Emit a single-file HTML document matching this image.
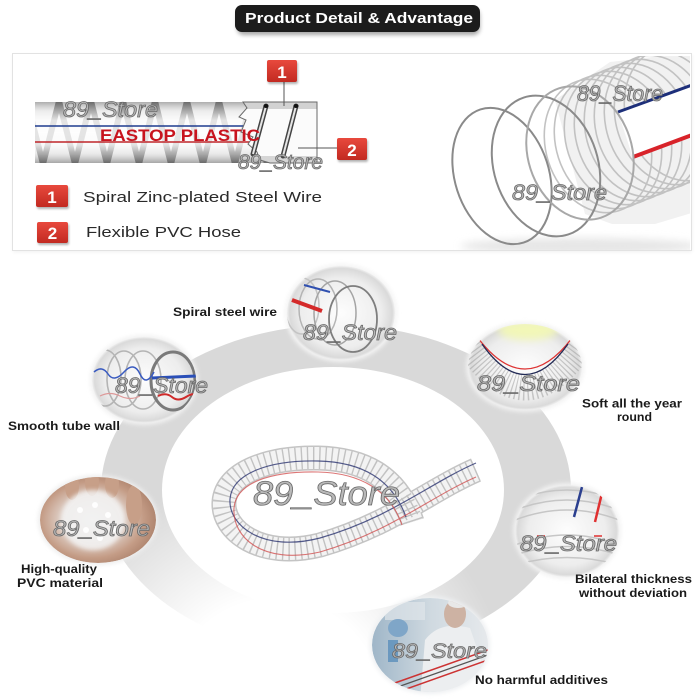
<!DOCTYPE html>
<html><head><meta charset="utf-8">
<style>
html,body{margin:0;padding:0;background:#fff;}
svg{display:block;}
text{font-family:"Liberation Sans",Arial,sans-serif;}
.wm{font-style:italic;fill:#b9b9b9;stroke:#6a6a6a;stroke-width:.8px;}
.lb{font-weight:bold;fill:#1a1a1a;font-size:12px;}
</style></head><body>
<svg width="700" height="700" viewBox="0 0 700 700" xmlns="http://www.w3.org/2000/svg">
<defs>
<filter id="blur2" x="-20%" y="-50%" width="140%" height="200%"><feGaussianBlur stdDeviation="2"/></filter>
<filter id="blur1"><feGaussianBlur stdDeviation="1"/></filter>
<filter id="blur4" x="-50%" y="-50%" width="200%" height="200%"><feGaussianBlur stdDeviation="4"/></filter>
<linearGradient id="hoseBody" x1="0" y1="0" x2="0" y2="1">
 <stop offset="0" stop-color="#adadad"/>
 <stop offset=".15" stop-color="#e0e0e0"/>
 <stop offset=".5" stop-color="#f8f8f8"/>
 <stop offset=".85" stop-color="#dadada"/>
 <stop offset="1" stop-color="#a6a6a6"/>
</linearGradient>
<linearGradient id="badge" x1="0" y1="0" x2="0" y2="1">
 <stop offset="0" stop-color="#e8493d"/>
 <stop offset="1" stop-color="#c22a21"/>
</linearGradient>
<linearGradient id="midfade" x1="0" y1="0" x2="0" y2="1">
 <stop offset="0" stop-color="#fff" stop-opacity="0"/>
 <stop offset=".3" stop-color="#fff" stop-opacity=".8"/>
 <stop offset=".7" stop-color="#fff" stop-opacity=".8"/>
 <stop offset="1" stop-color="#fff" stop-opacity="0"/>
</linearGradient>
<radialGradient id="fadeG" gradientUnits="userSpaceOnUse" cx="275" cy="705" r="235">
 <stop offset="0" stop-color="#000"/>
 <stop offset=".45" stop-color="#000"/>
 <stop offset="1" stop-color="#fff"/>
</radialGradient>
<mask id="ringMask"><rect width="700" height="700" fill="url(#fadeG)"/></mask>
<radialGradient id="pW" cx=".5" cy=".5" r=".5">
 <stop offset="0" stop-color="#fdfdfd"/>
 <stop offset=".75" stop-color="#ededed"/>
 <stop offset=".95" stop-color="#dadada"/>
 <stop offset="1" stop-color="#f0f0f0"/>
</radialGradient>
<radialGradient id="pSkin" cx=".45" cy=".5" r=".55">
 <stop offset="0" stop-color="#eeeeee"/>
 <stop offset=".45" stop-color="#e2d6cf"/>
 <stop offset=".8" stop-color="#c49c86"/>
 <stop offset="1" stop-color="#b08670"/>
</radialGradient>
<linearGradient id="pLab" x1="0" y1="0" x2="1" y2="0">
 <stop offset="0" stop-color="#9fb6c8"/>
 <stop offset=".5" stop-color="#cfd9e0"/>
 <stop offset="1" stop-color="#e6e9ec"/>
</linearGradient>
<clipPath id="leftBody"><polygon points="35,102 243,102 247,108 239,117 246,120 241,132 253,137 248,144 257,152 260,160 270,163 35,163"/></clipPath>
<clipPath id="cutC"><polygon points="243,102 317,102 317,163 270,163 260,160 257,152 248,144 253,137 241,132 246,120 239,117 247,108"/></clipPath>
<clipPath id="photoR"><rect x="445" y="56" width="245" height="194"/></clipPath>
<clipPath id="c1"><ellipse cx="341" cy="313" rx="54" ry="47"/></clipPath>
<clipPath id="c2"><ellipse cx="144" cy="380" rx="52" ry="43"/></clipPath>
<clipPath id="c3"><ellipse cx="525" cy="367" rx="57" ry="43"/></clipPath>
<clipPath id="c4"><ellipse cx="98" cy="520" rx="58" ry="43"/></clipPath>
<clipPath id="c5"><ellipse cx="567" cy="531" rx="52" ry="46"/></clipPath>
<clipPath id="c6"><ellipse cx="430" cy="645" rx="58" ry="47"/></clipPath>
</defs>

<rect width="700" height="700" fill="#fff"/>

<!-- Title pill -->
<rect x="237" y="9" width="243" height="26" rx="7" fill="#000" opacity=".35" filter="url(#blur2)"/>
<rect x="235" y="5" width="245" height="27" rx="7" fill="#1c1c1c"/>
<text x="245" y="23" font-size="14.5" font-weight="bold" fill="#fff" textLength="228" lengthAdjust="spacingAndGlyphs">Product Detail &amp; Advantage</text>

<!-- Panel -->
<rect x="13" y="55" width="679" height="197" fill="#000" opacity=".06" filter="url(#blur2)"/>
<rect x="12.5" y="53.5" width="679" height="197" fill="#fff" stroke="#e2e2e2" stroke-width="1"/>

<!-- Left hose diagram -->
<g clip-path="url(#leftBody)">
 <rect x="35" y="102" width="240" height="61" fill="url(#hoseBody)"/>
 <polyline points="27,101 43,164 59,101 75,164 91,101 107,164 123,101 139,164 155,101 171,164 187,101 203,164 219,101 235,164 251,101 267,164" fill="none" stroke="#5f5f5f" stroke-width="6" opacity=".85"/>
 <rect x="35" y="102" width="240" height="61" fill="url(#midfade)"/>
 <line x1="35" y1="126" x2="250" y2="126" stroke="#1f3d8f" stroke-width="1.5"/>
 <line x1="35" y1="142" x2="260" y2="142" stroke="#c0262b" stroke-width="1.5"/>
</g>
<g clip-path="url(#cutC)">
 <rect x="235" y="102" width="85" height="61" fill="#fbfbfb"/>
 <rect x="235" y="102" width="85" height="7" fill="#d2d2d2"/>
 <rect x="235" y="156" width="85" height="7" fill="#d6d6d6"/>
</g>
<polygon points="243,102 317,102 317,163 270,163 260,160 257,152 248,144 253,137 241,132 246,120 239,117 247,108" fill="none" stroke="#6a6a6a" stroke-width="1"/>
<line x1="266" y1="106" x2="253" y2="154" stroke="#444" stroke-width="5" stroke-linecap="round"/>
<line x1="266" y1="106" x2="253" y2="154" stroke="#e6e6e6" stroke-width="2"/>
<line x1="296" y1="106" x2="283" y2="156" stroke="#444" stroke-width="5" stroke-linecap="round"/>
<line x1="296" y1="106" x2="283" y2="156" stroke="#e6e6e6" stroke-width="2"/>
<ellipse cx="266" cy="106" rx="2.5" ry="2" fill="#111"/>
<ellipse cx="296" cy="106" rx="2.5" ry="2" fill="#111"/>
<text x="100" y="141" font-size="16.5" font-weight="bold" fill="#c8141e" textLength="160" lengthAdjust="spacingAndGlyphs">EASTOP PLASTIC</text>

<!-- badges + connectors -->
<line x1="284" y1="82" x2="284" y2="106" stroke="#555" stroke-width="1"/>
<line x1="298" y1="148" x2="338" y2="148" stroke="#555" stroke-width="1"/>
<rect x="268" y="62" width="30" height="22" rx="2" fill="#000" opacity=".3" filter="url(#blur1)"/>
<rect x="267" y="60" width="30" height="22" rx="2" fill="url(#badge)"/>
<text x="282" y="78" font-size="17" font-weight="bold" fill="#fff" text-anchor="middle">1</text>
<rect x="338" y="140" width="30" height="22" rx="2" fill="#000" opacity=".3" filter="url(#blur1)"/>
<rect x="337" y="138" width="30" height="22" rx="2" fill="url(#badge)"/>
<text x="352" y="156" font-size="17" font-weight="bold" fill="#fff" text-anchor="middle">2</text>

<rect x="37" y="187" width="32" height="22" rx="2" fill="#000" opacity=".3" filter="url(#blur1)"/>
<rect x="36" y="185" width="32" height="22" rx="2" fill="url(#badge)"/>
<text x="52" y="203" font-size="17" font-weight="bold" fill="#fff" text-anchor="middle">1</text>
<rect x="38" y="224" width="31" height="21" rx="2" fill="#000" opacity=".3" filter="url(#blur1)"/>
<rect x="37" y="222" width="31" height="21" rx="2" fill="url(#badge)"/>
<text x="52.5" y="239" font-size="17" font-weight="bold" fill="#fff" text-anchor="middle">2</text>
<text x="83" y="202" font-size="14.5" fill="#2a2a2a" textLength="239" lengthAdjust="spacingAndGlyphs">Spiral Zinc-plated Steel Wire</text>
<text x="86" y="237" font-size="14.5" fill="#2a2a2a" textLength="155" lengthAdjust="spacingAndGlyphs">Flexible PVC Hose</text>

<!-- Right photo: spiral hose -->
<g clip-path="url(#photoR)">
 <ellipse cx="580" cy="246" rx="120" ry="8" fill="#e6e6e6" filter="url(#blur4)"/>
 <polygon points="555,100 610,62 695,52 695,212 655,224 612,224 585,214" fill="#eeeeee" opacity=".85"/>
 <g fill="none" stroke="#c2c2c2" stroke-width="1.6">
  <ellipse cx="598" cy="146" rx="52" ry="68" transform="rotate(-18 598 146)"/>
  <ellipse cx="608" cy="142" rx="52" ry="68" transform="rotate(-18 608 142)"/>
  <ellipse cx="618" cy="138" rx="52" ry="68" transform="rotate(-18 618 138)"/>
  <ellipse cx="628" cy="134" rx="52" ry="68" transform="rotate(-18 628 134)"/>
  <ellipse cx="638" cy="130" rx="52" ry="68" transform="rotate(-18 638 130)"/>
  <ellipse cx="648" cy="126" rx="52" ry="68" transform="rotate(-18 648 126)"/>
  <ellipse cx="658" cy="122" rx="52" ry="68" transform="rotate(-18 658 122)"/>
  <ellipse cx="668" cy="118" rx="52" ry="68" transform="rotate(-18 668 118)"/>
  <ellipse cx="678" cy="114" rx="52" ry="68" transform="rotate(-18 678 114)"/>
 </g>
 <polygon points="618,112 692,85 692,135 633,158" fill="#fff"/>
 <line x1="618" y1="112" x2="692" y2="85" stroke="#1d2f7a" stroke-width="3"/>
 <line x1="633" y1="157" x2="692" y2="135" stroke="#d8232a" stroke-width="4"/>
 <g fill="none" stroke="#8a8a8a" stroke-width="2">
  <ellipse cx="502" cy="176" rx="47" ry="70" transform="rotate(-18 502 176)"/>
  <ellipse cx="546" cy="166" rx="52" ry="72" transform="rotate(-18 546 166)"/>
  <ellipse cx="580" cy="153" rx="52" ry="68" transform="rotate(-18 580 153)" stroke="#a8a8a8"/>
 </g>
</g>

<!-- Big ring -->
<path mask="url(#ringMask)" fill="#d9d9d9" fill-rule="evenodd"
 d="M 101 490 A 235 165 0 1 0 571 490 A 235 165 0 1 0 101 490 Z M 162 490 A 171 123 0 1 0 504 490 A 171 123 0 1 0 162 490 Z"/>

<!-- Center hose -->
<g fill="none" stroke-linecap="butt">
 <path d="M 476 470 C 430 490, 390 525, 320 545 C 260 560, 222 530, 224 502 C 226 472, 270 457, 318 458 C 365 459, 398 478, 412 522" stroke="#c4c4c4" stroke-width="25"/>
 <path d="M 476 470 C 430 490, 390 525, 320 545 C 260 560, 222 530, 224 502 C 226 472, 270 457, 318 458 C 365 459, 398 478, 412 522" stroke="#f3f3f3" stroke-width="22"/>
 <path d="M 476 470 C 430 490, 390 525, 320 545 C 260 560, 222 530, 224 502 C 226 472, 270 457, 318 458 C 365 459, 398 478, 412 522" stroke="#888" stroke-width="22" stroke-dasharray="1.4 4.6" opacity=".45"/>
 <path d="M 476 466 C 430 486, 390 521, 320 541 C 262 556, 228 528, 230 502 C 232 476, 270 463, 318 464 C 362 465, 392 482, 406 520" stroke="#2c3470" stroke-width="1.2" opacity=".8" transform="translate(0,-3)"/>
 <path d="M 476 474 C 430 494, 390 529, 320 549 C 262 562, 232 534, 234 505 C 236 480, 270 468, 318 469 C 360 470, 390 487, 402 522" stroke="#d04848" stroke-width="1.1" opacity=".75" transform="translate(0,3)"/>
</g>

<!-- Circle 1: spiral steel wire -->
<ellipse cx="341" cy="313" rx="56" ry="49" fill="#f4f4f4" filter="url(#blur2)"/>
<g clip-path="url(#c1)">
 <ellipse cx="341" cy="313" rx="54" ry="47" fill="url(#pW)"/>
 <g fill="none">
  <ellipse cx="302" cy="306" rx="17" ry="28" stroke="#c4c4c4" stroke-width="1.5"/>
  <ellipse cx="318" cy="309" rx="19" ry="30" stroke="#b4b4b4" stroke-width="1.5"/>
  <ellipse cx="335" cy="313" rx="21" ry="32" stroke="#a4a4a4" stroke-width="1.5"/>
  <ellipse cx="353" cy="319" rx="24" ry="33" stroke="#7e7e7e" stroke-width="1.8"/>
 </g>
 <line x1="292" y1="300" x2="322" y2="311" stroke="#d42a2a" stroke-width="4"/>
 <line x1="304" y1="285" x2="330" y2="292" stroke="#3050b0" stroke-width="2"/>
</g>

<!-- Circle 2: smooth tube wall -->
<ellipse cx="144" cy="380" rx="54" ry="45" fill="#f2f2f2" filter="url(#blur2)"/>
<g clip-path="url(#c2)">
 <ellipse cx="144" cy="380" rx="52" ry="43" fill="url(#pW)"/>
 <g fill="none" stroke="#b4b4b4" stroke-width="1.6">
  <ellipse cx="105" cy="378" rx="16" ry="28"/>
  <ellipse cx="124" cy="379" rx="17" ry="28"/>
  <ellipse cx="143" cy="380" rx="18" ry="29"/>
 </g>
 <ellipse cx="173" cy="381" rx="22" ry="29" fill="none" stroke="#7a7a7a" stroke-width="3"/>
 <path d="M 94 372 q 8 -7 14 2 t 16 -2 t 16 2 t 14 -2" fill="none" stroke="#3a5bc0" stroke-width="1.5"/>
 <line x1="152" y1="378" x2="196" y2="376" stroke="#2a4fb8" stroke-width="3"/>
 <path d="M 100 396 q 10 -5 20 0 t 20 0" fill="none" stroke="#d99" stroke-width="1.2"/>
 <path d="M 158 396 q 8 -4 14 1 t 14 0 t 10 -1" fill="none" stroke="#cf2a2a" stroke-width="2"/>
</g>

<!-- Circle 3: soft -->
<ellipse cx="525" cy="367" rx="59" ry="45" fill="#f2f2f2" filter="url(#blur2)"/>
<g clip-path="url(#c3)">
 <ellipse cx="525" cy="367" rx="57" ry="43" fill="url(#pW)"/>
 <ellipse cx="528" cy="330" rx="30" ry="10" fill="#f2f7b8" filter="url(#blur4)"/>
 <path d="M 468 345 Q 525 430 582 345" fill="none" stroke="#9a9a9a" stroke-width="26" stroke-dasharray="1.2 2.6" opacity=".5"/>
 <path d="M 478 338 Q 525 400 572 338" fill="none" stroke="#d33" stroke-width="1.3"/>
 <path d="M 482 344 Q 525 405 568 344" fill="none" stroke="#222a55" stroke-width="1.3"/>
</g>

<!-- Circle 4: PVC material -->
<ellipse cx="98" cy="520" rx="60" ry="45" fill="#eee" filter="url(#blur2)"/>
<g clip-path="url(#c4)">
 <ellipse cx="98" cy="520" rx="58" ry="43" fill="url(#pSkin)"/>
 <g fill="#c79f88">
  <ellipse cx="72" cy="486" rx="7" ry="14"/>
  <ellipse cx="92" cy="482" rx="7" ry="14"/>
  <ellipse cx="112" cy="484" rx="7" ry="14"/>
  <ellipse cx="134" cy="505" rx="8" ry="20"/>
 </g>
 <ellipse cx="93" cy="520" rx="32" ry="30" fill="#f3f3f3" opacity=".85" filter="url(#blur2)"/>
 <g fill="#fff" opacity=".9">
  <circle cx="80" cy="510" r="3"/><circle cx="95" cy="505" r="3"/><circle cx="108" cy="515" r="3"/>
  <circle cx="86" cy="530" r="3"/><circle cx="100" cy="538" r="3"/><circle cx="115" cy="530" r="2.5"/>
 </g>
</g>

<!-- Circle 5: bilateral thickness -->
<ellipse cx="567" cy="531" rx="54" ry="48" fill="#f2f2f2" filter="url(#blur2)"/>
<g clip-path="url(#c5)">
 <ellipse cx="567" cy="531" rx="52" ry="46" fill="url(#pW)"/>
 <g fill="none" stroke="#c6c6c6" stroke-width="1.5">
  <path d="M 515 500 Q 567 480 619 500"/>
  <path d="M 515 510 Q 567 490 619 510"/>
  <path d="M 515 520 Q 567 500 619 520"/>
  <path d="M 515 545 Q 567 525 619 545"/>
  <path d="M 515 555 Q 567 538 619 555"/>
  <path d="M 515 565 Q 567 550 619 565"/>
 </g>
 <line x1="582" y1="487" x2="574" y2="517" stroke="#2b3f8f" stroke-width="2.5"/>
 <line x1="602" y1="493" x2="595" y2="522" stroke="#e03030" stroke-width="2.5"/>
 <line x1="537" y1="536" x2="545" y2="536" stroke="#e03030" stroke-width="1.5"/>
 <line x1="594" y1="536" x2="602" y2="536" stroke="#e03030" stroke-width="1.5"/>
</g>

<!-- Circle 6: no harmful -->
<ellipse cx="430" cy="645" rx="60" ry="49" fill="#eef0f2" filter="url(#blur2)"/>
<g clip-path="url(#c6)">
 <ellipse cx="430" cy="645" rx="58" ry="47" fill="url(#pLab)"/>
 <rect x="385" y="602" width="40" height="18" fill="#dfe6ea" opacity=".7"/>
 <path d="M 425 640 Q 440 620 470 628 L 495 700 L 420 700 Z" fill="#eceef0"/>
 <ellipse cx="455" cy="614" rx="11" ry="14" fill="#cdb2a3"/>
 <ellipse cx="458" cy="603" rx="10" ry="5" fill="#e8e8e8"/>
 <ellipse cx="398" cy="628" rx="10" ry="9" fill="#7fa6c8"/>
 <rect x="388" y="640" width="10" height="22" fill="#4e88b8" opacity=".7"/>
 <line x1="392" y1="684" x2="488" y2="650" stroke="#c33" stroke-width="1.5"/>
 <line x1="392" y1="689" x2="488" y2="655" stroke="#555" stroke-width="1.2"/>
 <line x1="395" y1="693" x2="488" y2="660" stroke="#c33" stroke-width="1.5"/>
</g>

<!-- Labels -->
<text class="lb" x="173" y="316" textLength="104" lengthAdjust="spacingAndGlyphs">Spiral steel wire</text>
<text class="lb" x="8" y="430" textLength="112" lengthAdjust="spacingAndGlyphs">Smooth tube wall</text>
<text class="lb" x="582" y="407.5" textLength="100" lengthAdjust="spacingAndGlyphs">Soft all the year</text>
<text class="lb" x="617" y="421" textLength="35" lengthAdjust="spacingAndGlyphs">round</text>
<text class="lb" x="21" y="573" textLength="76" lengthAdjust="spacingAndGlyphs">High-quality</text>
<text class="lb" x="17" y="587" textLength="86" lengthAdjust="spacingAndGlyphs">PVC material</text>
<text class="lb" x="575" y="583" textLength="117" lengthAdjust="spacingAndGlyphs">Bilateral thickness</text>
<text class="lb" x="579" y="597" textLength="108" lengthAdjust="spacingAndGlyphs">without deviation</text>
<text class="lb" x="475" y="684" textLength="133" lengthAdjust="spacingAndGlyphs">No harmful additives</text>

<!-- Watermarks -->
<text class="wm" x="63" y="117" font-size="22" textLength="95" lengthAdjust="spacingAndGlyphs">89_Store</text>
<text class="wm" x="238" y="169" font-size="21" textLength="85" lengthAdjust="spacingAndGlyphs">89_Store</text>
<text class="wm" x="577" y="101" font-size="22" textLength="86" lengthAdjust="spacingAndGlyphs">89_Store</text>
<text class="wm" x="512" y="200" font-size="22" textLength="95" lengthAdjust="spacingAndGlyphs">89_Store</text>
<text class="wm" x="303" y="340" font-size="22" textLength="94" lengthAdjust="spacingAndGlyphs">89_Store</text>
<text class="wm" x="115" y="393" font-size="22" textLength="93" lengthAdjust="spacingAndGlyphs">89_Store</text>
<text class="wm" x="477" y="391" font-size="22" textLength="103" lengthAdjust="spacingAndGlyphs">89_Store</text>
<text class="wm" x="53" y="536" font-size="22" textLength="97" lengthAdjust="spacingAndGlyphs">89_Store</text>
<text class="wm" x="253" y="505" font-size="34" textLength="147" lengthAdjust="spacingAndGlyphs">89_Store</text>
<text class="wm" x="520" y="551" font-size="22" textLength="97" lengthAdjust="spacingAndGlyphs">89_Store</text>
<text class="wm" x="392" y="658" font-size="21" textLength="95" lengthAdjust="spacingAndGlyphs">89_Store</text>
</svg>
</body></html>
